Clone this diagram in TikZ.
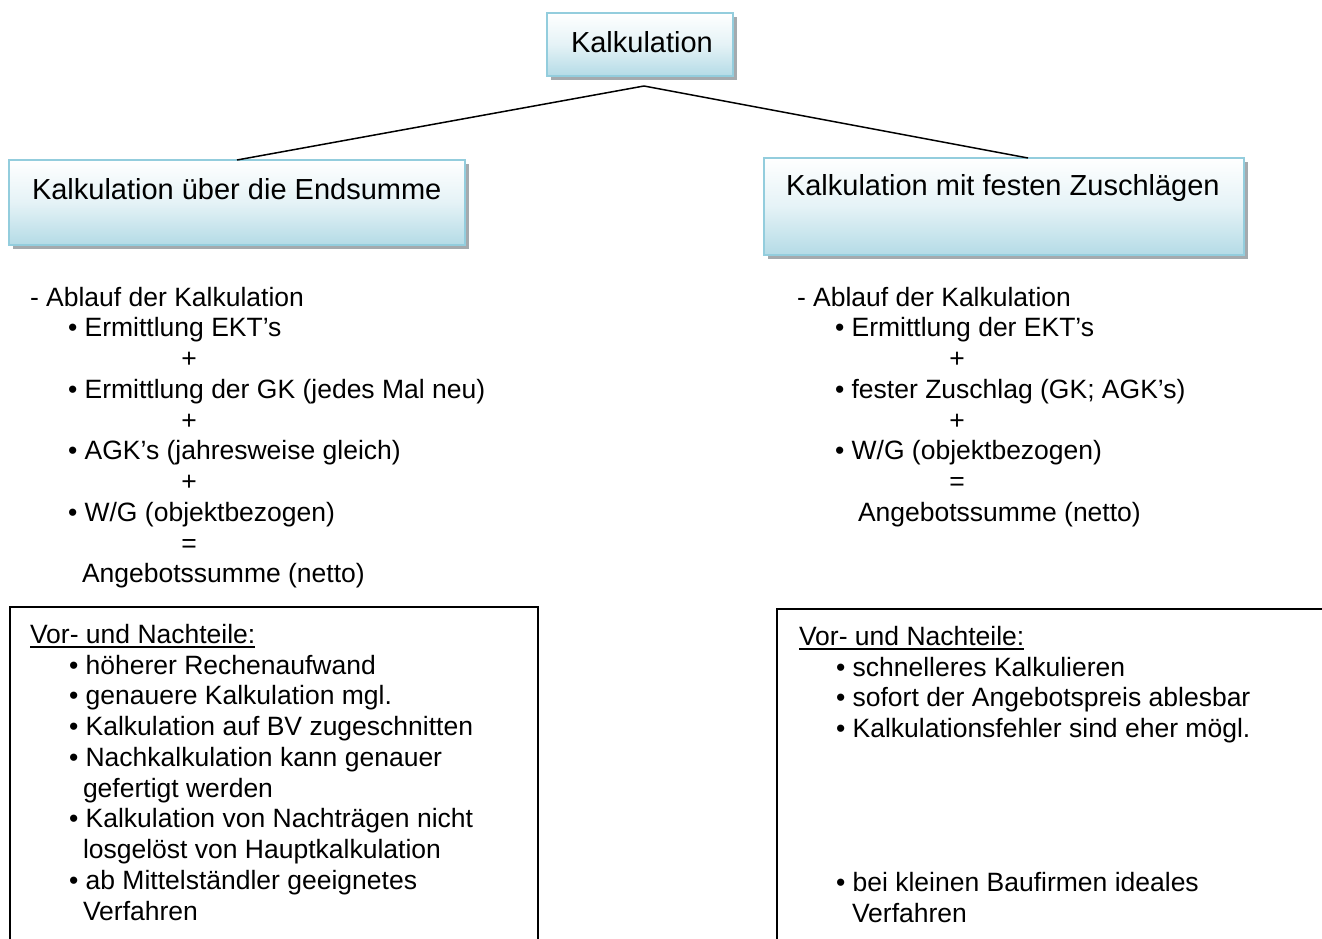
\documentclass[tikz,border=0pt]{standalone}
\usepackage{fontspec}
\setmainfont{Liberation Sans}
\definecolor{boxedge}{HTML}{93CDDD}
\definecolor{boxfill}{HTML}{B4DBE6}
\definecolor{shadowgrey}{HTML}{A4AAAE}
\begin{document}
\begin{tikzpicture}[x=1pt,y=-1pt,
  every node/.style={inner sep=0pt, outer sep=0pt, font=\fontsize{26.5}{30.7}\selectfont},
  txt/.style={anchor=base west},
  sign/.style={anchor=base},
  head/.style={anchor=base west, font=\fontsize{29}{33}\selectfont},
  titlebox/.style={draw=boxedge, line width=2pt, top color=white, bottom color=boxfill,
                   middle color=boxfill!35, anchor=north west},
  shadowbox/.style={fill=shadowgrey, draw=none, anchor=north west},
  panel/.style={draw=black, line width=1.5pt, anchor=north west},
  link/.style={draw=black, line width=1.5pt}]
\useasboundingbox (0,0) rectangle (1322,939);

% --- title boxes with drop shadows ---
\node[shadowbox, minimum width=186, minimum height=63] (topsh) at (551,17) {};
\node[titlebox, minimum width=186, minimum height=63] (top) at (547,13) {};
\node[head] (toptxt) at (571,53) {Kalkulation};

\node[shadowbox, minimum width=456, minimum height=85] (leftsh) at (13,164) {};
\node[titlebox, minimum width=456, minimum height=85] (lefthead) at (9,160) {};
\node[head] (lefttxt) at (32,199) {Kalkulation über die Endsumme};

\node[shadowbox, minimum width=480, minimum height=97] (rightsh) at (768,162) {};
\node[titlebox, minimum width=480, minimum height=97] (righthead) at (764,158) {};
\node[head] (righttxt) at (786,195) {Kalkulation mit festen Zuschlägen};

% --- connectors ---
\coordinate (hub) at (644,86);
\draw[link] (hub) -- (lefthead.north);
\draw[link] (hub) -- ([xshift=24pt]righthead.north);

% --- left procedure ---
\node[txt] (l1) at (30,306) {- Ablauf der Kalkulation};
\node[txt] (l2) at (68,336) {• Ermittlung EKT’s};
\node[sign] (l3) at (189,367) {+};
\node[txt] (l4) at (68,398) {• Ermittlung der GK (jedes Mal neu)};
\node[sign] (l5) at (189,429) {+};
\node[txt] (l6) at (68,459) {• AGK’s (jahresweise gleich)};
\node[sign] (l7) at (189,490) {+};
\node[txt] (l8) at (68,521) {• W/G (objektbezogen)};
\node[sign] (l9) at (189,552) {=};
\node[txt] (l10) at (82,582) {Angebotssumme (netto)};

% --- right procedure ---
\node[txt] (r1) at (797,306) {- Ablauf der Kalkulation};
\node[txt] (r2) at (835,336) {• Ermittlung der EKT’s};
\node[sign] (r3) at (957,367) {+};
\node[txt] (r4) at (835,398) {• fester Zuschlag (GK; AGK’s)};
\node[sign] (r5) at (957,429) {+};
\node[txt] (r6) at (835,459) {• W/G (objektbezogen)};
\node[sign] (r7) at (957,490) {=};
\node[txt] (r8) at (858,521) {Angebotssumme (netto)};

% --- pros and cons, left ---
\node[panel, minimum width=528, minimum height=360] (pl) at (10,607) {};
\node[txt] (plh) at (30,643) {Vor- und Nachteile:};
\draw[line width=1.6pt] ([yshift=-4pt]plh.base west) -- ([yshift=-4pt]plh.base east);
\node[txt] (pl1) at (69,674) {• höherer Rechenaufwand};
\node[txt] (pl2) at (69,704.5) {• genauere Kalkulation mgl.};
\node[txt] (pl3) at (69,735) {• Kalkulation auf BV zugeschnitten};
\node[txt] (pl4) at (69,766) {• Nachkalkulation kann genauer};
\node[txt] (pl5) at (83,797) {gefertigt werden};
\node[txt] (pl6) at (69,827) {• Kalkulation von Nachträgen nicht};
\node[txt] (pl7) at (83,858) {losgelöst von Hauptkalkulation};
\node[txt] (pl8) at (69,889) {• ab Mittelständler geeignetes};
\node[txt] (pl9) at (83,920) {Verfahren};

% --- pros and cons, right ---
\node[panel, minimum width=580, minimum height=360] (pr) at (777,609) {};
\node[txt] (prh) at (799,645) {Vor- und Nachteile:};
\draw[line width=1.6pt] ([yshift=-4pt]prh.base west) -- ([yshift=-4pt]prh.base east);
\node[txt] (pr1) at (836,676) {• schnelleres Kalkulieren};
\node[txt] (pr2) at (836,706.5) {• sofort der Angebotspreis ablesbar};
\node[txt] (pr3) at (836,737) {• Kalkulationsfehler sind eher mögl.};
\node[txt] (pr4) at (836,891) {• bei kleinen Baufirmen ideales};
\node[txt] (pr5) at (852,922) {Verfahren};
\end{tikzpicture}
\end{document}
